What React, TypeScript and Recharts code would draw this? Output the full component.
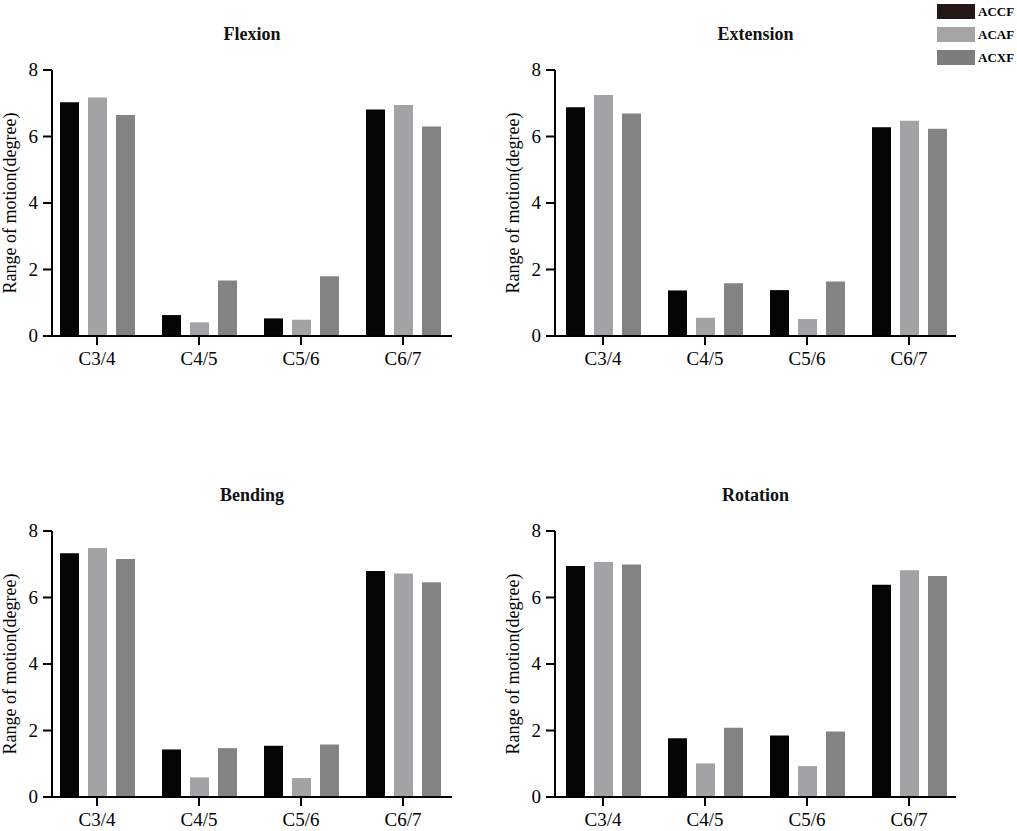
import React from 'react';
import { BarChart, Bar, XAxis, YAxis } from 'recharts';

const categories = ['C3/4', 'C4/5', 'C5/6', 'C6/7'];
const seriesNames = ['ACCF', 'ACAF', 'ACXF'];
const yTicks = [0, 2, 4, 6, 8];

const flexionACCF = [7.03, 0.63, 0.53, 6.81];
const flexionACAF = [7.17, 0.41, 0.49, 6.95];
const flexionACXF = [6.65, 1.67, 1.8, 6.3];

const extensionACCF = [6.88, 1.37, 1.38, 6.28];
const extensionACAF = [7.25, 0.55, 0.51, 6.47];
const extensionACXF = [6.69, 1.59, 1.64, 6.23];

const bendingACCF = [7.33, 1.43, 1.54, 6.8];
const bendingACAF = [7.49, 0.59, 0.57, 6.72];
const bendingACXF = [7.16, 1.47, 1.58, 6.46];

const rotationACCF = [6.95, 1.77, 1.85, 6.38];
const rotationACAF = [7.07, 1.01, 0.93, 6.82];
const rotationACXF = [6.99, 2.08, 1.97, 6.65];

const barColors = ['#050505', '#a3a3a6', '#838383'];
const legendColors = ['#231815', '#a5a5a5', '#7d7d7d'];
const font = "'Liberation Serif', 'Times New Roman', serif";

const buildRows = (a: number[], b: number[], c: number[]) =>
    categories.map((cat, i) => ({ cat, ACCF: a[i], ACAF: b[i], ACXF: c[i] }));

// axis text drawn by hand so the serif font sticks
const XTick = (props: any) => (
    <text x={props.x} y={props.y} dy="0.71em" textAnchor="middle" fill="#000" style={{ fontFamily: font, fontSize: 19 }}>
        {props.payload.value}
    </text>
);

const YTick = (props: any) => (
    <text x={props.x} y={props.y} dy="0.34em" textAnchor="end" fill="#000" style={{ fontFamily: font, fontSize: 19 }}>
        {props.payload.value}
    </text>
);

const YLabel = (props: any) => {
    const vb = props.viewBox || { x: 0, y: 0, width: 0, height: 0 };
    const cx = vb.x + 10;
    const cy = vb.y + vb.height / 2;
    return (
        <text
            x={cx}
            y={cy}
            dy="0.33em"
            textAnchor="middle"
            transform={`rotate(-90, ${cx}, ${cy})`}
            fill="#000"
            style={{ fontFamily: font, fontSize: 18 }}
        >
            Range of motion(degree)
        </text>
    );
};

interface PanelProps {
    title: string;
    rows: Array<Record<string, any>>;
    left: number;
    top: number;
    marginRight: number;
    pad: { left: number; right: number };
}

const Panel: React.FC<PanelProps> = ({ title, rows, left, top, marginRight, pad }) => {
    const plotCenter = left + 52 + (470 - 52 - marginRight) / 2;
    return (
        <>
            <div
                style={{
                    position: 'absolute',
                    left: plotCenter - 100,
                    width: 200,
                    top: top - 45,
                    textAlign: 'center',
                    fontFamily: font,
                    fontWeight: 'bold',
                    fontSize: 18,
                    lineHeight: '18px',
                    color: '#111'
                }}
            >
                {title}
            </div>
            <div style={{ position: 'absolute', left, top: top - 20 }}>
                <BarChart
                    width={470}
                    height={320}
                    data={rows}
                    margin={{ top: 20, right: marginRight, bottom: 0, left: 0 }}
                    barSize={19}
                    barGap={9}
                >
                    <XAxis
                        dataKey="cat"
                        height={34}
                        padding={pad}
                        axisLine={{ stroke: '#000', strokeWidth: 2 }}
                        tickLine={{ stroke: '#000', strokeWidth: 2 }}
                        tickSize={9}
                        tickMargin={7}
                        tick={<XTick />}
                    />
                    <YAxis
                        width={52}
                        domain={[0, 8]}
                        ticks={yTicks}
                        axisLine={{ stroke: '#000', strokeWidth: 2 }}
                        tickLine={{ stroke: '#000', strokeWidth: 2 }}
                        tickSize={9}
                        tickMargin={5}
                        tick={<YTick />}
                        label={{ content: <YLabel />, position: 'insideLeft' }}
                    />
                    {seriesNames.map((name, i) => (
                        <Bar key={name} dataKey={name} fill={barColors[i]} isAnimationActive={false} />
                    ))}
                </BarChart>
            </div>
        </>
    );
};

const App: React.FC = () => {
    const leftPad = { left: -6, right: -2 };
    const rightPad = { left: -3, right: -4 };
    return (
        <div style={{ position: 'absolute', left: 0, top: 0, width: 1017, height: 831, background: '#fff' }}>
            <Panel title="Flexion" rows={buildRows(flexionACCF, flexionACAF, flexionACXF)} left={0} top={70} marginRight={18} pad={leftPad} />
            <Panel title="Extension" rows={buildRows(extensionACCF, extensionACAF, extensionACXF)} left={503} top={70} marginRight={17} pad={rightPad} />
            <Panel title="Bending" rows={buildRows(bendingACCF, bendingACAF, bendingACXF)} left={0} top={531} marginRight={18} pad={leftPad} />
            <Panel title="Rotation" rows={buildRows(rotationACCF, rotationACAF, rotationACXF)} left={503} top={531} marginRight={17} pad={rightPad} />
            {seriesNames.map((name, i) => (
                <div
                    key={name}
                    style={{
                        position: 'absolute',
                        left: 937,
                        top: 4 + i * 23,
                        height: 15,
                        display: 'flex',
                        alignItems: 'center',
                        fontFamily: font,
                        fontWeight: 'bold',
                        fontSize: 13,
                        color: '#000'
                    }}
                >
                    <div style={{ width: 38, height: 15, background: legendColors[i], marginRight: 3 }} />
                    {name}
                </div>
            ))}
        </div>
    );
};

export default App;
